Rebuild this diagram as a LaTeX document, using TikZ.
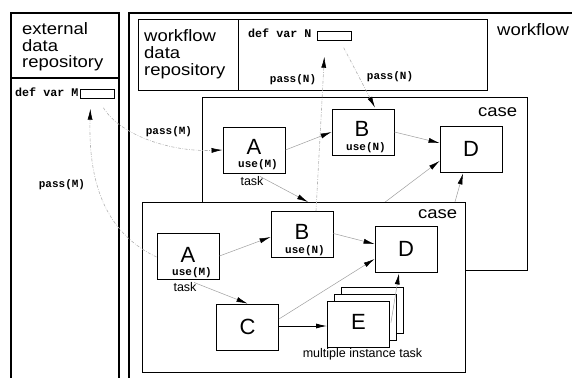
\documentclass[tikz,border=0pt]{standalone}
\usepackage{fontspec}
\setmainfont{Liberation Sans}
\setmonofont{Liberation Mono}
\usepackage{graphicx}
\usetikzlibrary{arrows.meta,calc}
\newcommand\wdtxt[1]{\scalebox{1.12}[1]{#1}}
\begin{document}
\begin{tikzpicture}[x=1pt,y=-1pt,
 panel/.style={line width=1.6pt},
 repo/.style={line width=1pt},
 casebox/.style={draw, fill=white, line width=1pt},
 taskbox/.style={draw, fill=white, line width=0.9pt, minimum width=62pt, minimum height=46pt, inner sep=0pt},
 varbox/.style={draw, line width=0.7pt, minimum width=34pt, minimum height=9pt, inner sep=0pt, anchor=north west},
 letter/.style={font=\fontsize{22}{24}\selectfont, inner sep=0pt},
 usetxt/.style={font=\fontsize{11}{12}\selectfont\ttfamily\bfseries, inner sep=0pt},
 code/.style={font=\fontsize{11.7}{12}\selectfont\ttfamily\bfseries, inner sep=0pt},
 smalltxt/.style={font=\fontsize{12.5}{14}\selectfont, inner sep=0pt},
 bigtxt/.style={font=\fontsize{16.5}{15}\selectfont, inner sep=0pt},
 flow/.style={draw=gray!75, line width=0.5pt, -{Latex[length=11pt,width=5pt,color=black]}},
 mainflow/.style={draw=black, line width=0.9pt, -{Latex[length=11pt,width=5pt,color=black]}},
 pass/.style={draw=gray!60, line width=0.6pt, dash pattern=on 3pt off 1.5pt on 0.7pt off 1.5pt, -{Latex[length=11pt,width=5pt,color=black]}},
]
\useasboundingbox (0,0) rectangle (572,377);

% external data repository panel
\draw[panel] (11,380) -- (11,13) -- (119,13) -- (119,380);
\draw[line width=1.2pt] (11,78) -- (119,78);
\node[bigtxt, anchor=base west] (extlbl) at (22,35) {\wdtxt{\begin{tabular}[t]{@{}l@{}}external\\data\\repository\end{tabular}}};
\node[code, anchor=base west] (defM) at (15,97) {def var M};
\node[varbox] (Mbox) at (80,89) {};

% workflow panel
\draw[panel] (129,380) -- (129,13) -- (580,13);
\node[bigtxt, anchor=base west] (wflbl) at (497,36) {\wdtxt{workflow}};
\draw[repo] (138,20) rectangle (487,91);
\draw[repo] (238,20) -- (238,91);
\node[font=\fontsize{16.5}{16.5}\selectfont, inner sep=0pt, anchor=base west] (wrlbl) at (144,41.5) {\wdtxt{\begin{tabular}[t]{@{}l@{}}workflow\\data\\repository\end{tabular}}};
\node[code, anchor=base west] (defN) at (248,38) {def var N};
\node[varbox] (Nbox) at (317,31) {};

% upper case
\draw[casebox] (202,98) rectangle (527,270);
\node[bigtxt, anchor=base west] (ucase) at (478,117) {\wdtxt{case}};
\node[taskbox] (uA) at (254,150) {};
\node[letter] (uAl) at (254,147) {A};
\node[usetxt] (uAu) at (258,165) {use(M)};
\node[smalltxt] (uAt) at (252,181) {task};
\node[taskbox] (uB) at (363,132) {};
\node[letter] (uBl) at (362,128.5) {B};
\node[usetxt] (uBu) at (366,148) {use(N)};
\node[taskbox] (uD) at (471,149) {};
\node[letter] (uDl) at (471,149) {D};
\coordinate (uC) at (308,202);
\coordinate (uCe) at (364,218);
\coordinate (uE) at (451,216);
\draw[flow] (uA.east) -- ($(uB.west)+(0,0)$);
\draw[flow] (uB.east) -- ($(uD.west)+(0,-6)$);
\draw[flow] ($(uA.south)+(6,3)$) -- (uC);
\draw[flow] (uCe) -- ($(uD.west)+(0,12)$);
\draw[flow] (uE) -- ($(uD.south)+(-8,1)$);

% lower case
\draw[casebox] (142,202) rectangle (465,372);
\node[bigtxt, anchor=base west] (lcase) at (418,218) {\wdtxt{case}};
\node[taskbox] (lA) at (188,256) {};
\node[letter] (lAl) at (188,254.5) {A};
\node[usetxt] (lAu) at (192,273) {use(M)};
\node[smalltxt] (lAt) at (185,287) {task};
\node[taskbox] (lB) at (302,234.5) {};
\node[letter] (lBl) at (302,232) {B};
\node[usetxt] (lBu) at (305,251) {use(N)};
\node[taskbox] (lD) at (406,249) {};
\node[letter] (lDl) at (406,248.5) {D};
\node[taskbox] (lC) at (247.5,327) {};
\node[letter] (lCl) at (247.5,327) {C};
\node[taskbox] (E3) at (372.5,310.5) {};
\node[taskbox] (E2) at (365.5,317.5) {};
\node[taskbox] (E1) at (358.5,324.5) {};
\node[letter] (El) at (358.5,321.5) {E};
\node[smalltxt] (mit) at (362.5,354) {multiple instance task};
\draw[flow] (lA.east) -- ($(lB.west)+(0,2.5)$);
\draw[flow] ($(lB.east)+(0,-1)$) -- ($(lD.west)+(0,-5)$);
\draw[flow] ($(lA.south)+(6,3)$) -- (lC.north);
\draw[flow] ($(lC.east)+(0,-8)$) -- ($(lD.west)+(0,10)$);
\draw[mainflow] ($(lC.east)+(0,-1)$) -- ($(E1.west)+(0,1.5)$);
\draw[flow] ($(E1.east)+(1,-2)$) -- ($(lD.south)+(-7,1)$);

% data passing
\draw[pass] ($(lB.north)+(14,0)$) -- ($(Nbox.south)+(-10,16)$);
\node[usetxt] (pN1) at (293,80) {pass(N)};
\draw[pass] ($(Nbox.south east)+(-8,7)$) -- ($(uB.north)+(12,-1)$);
\node[usetxt] (pN2) at (390,77) {pass(N)};
\draw[pass] ($(Mbox.south)+(6,9)$) .. controls (120,135) and (170,152) .. ($(uA.west)+(0,0)$);
\node[usetxt] (pM1) at (169,132) {pass(M)};
\draw[pass] ($(lA.west)+(0,1)$) .. controls (110,235) and (88,190) .. ($(Mbox.south)+(-7,10)$);
\node[usetxt] (pM2) at (62,185) {pass(M)};
\end{tikzpicture}
\end{document}
